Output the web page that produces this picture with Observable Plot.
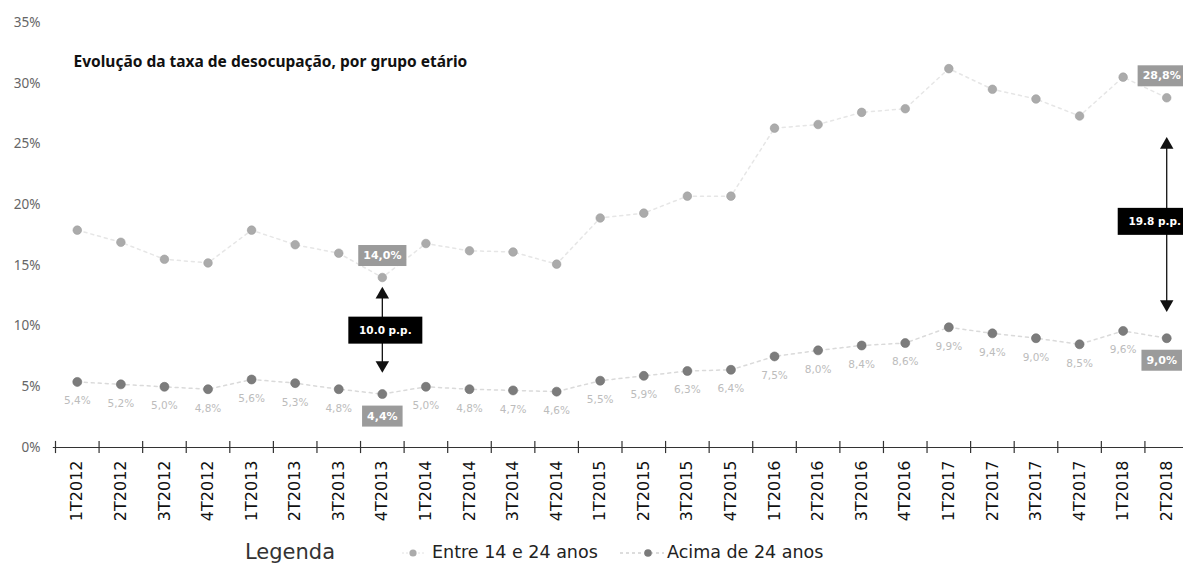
<!DOCTYPE html>
<html><head><meta charset="utf-8">
<script src="https://cdn.jsdelivr.net/npm/d3@7"></script>
<script src="https://cdn.jsdelivr.net/npm/@observablehq/plot@0.6"></script>
<style>
body{margin:0;background:#fff;}
#wrap{position:relative;width:1183px;height:564px;overflow:hidden;background:#fff;}
#legend{position:absolute;left:0;top:540px;width:1183px;height:24px;font-family:"DejaVu Sans",sans-serif;color:#222;}
#legend span{position:absolute;top:0;line-height:24px;white-space:nowrap;}
#legend svg{position:absolute;top:0;}
</style></head><body>
<div id="wrap"><div id="chart"></div>
<div id="legend">
  <span style="left:245px;font-size:21px;color:#333;">Legenda</span>
  <svg style="left:398px" width="32" height="24"><line x1="4" x2="28" y1="13" y2="13" stroke="#e2e2e2" stroke-dasharray="2,2"/><circle cx="15" cy="13" r="3.6" fill="#ababab"/></svg>
  <span style="left:432px;font-size:17.5px;">Entre 14 e 24 anos</span>
  <svg style="left:618px" width="48" height="24"><line x1="2" x2="46" y1="13" y2="13" stroke="#bbb" stroke-dasharray="3,3"/><circle cx="30" cy="13" r="3.8" fill="#7a7a7a"/></svg>
  <span style="left:667px;font-size:17.5px;">Acima de 24 anos</span>
</div></div>
<script>
const quarters = ["1T2012","2T2012","3T2012","4T2012","1T2013","2T2013","3T2013","4T2013","1T2014","2T2014","3T2014","4T2014","1T2015","2T2015","3T2015","4T2015","1T2016","2T2016","3T2016","4T2016","1T2017","2T2017","3T2017","4T2017","1T2018","2T2018"];
const young = [17.9,16.9,15.5,15.2,17.9,16.7,16.0,14.0,16.8,16.2,16.1,15.1,18.9,19.3,20.7,20.7,26.3,26.6,27.6,27.9,31.2,29.5,28.7,27.3,30.5,28.8];
const older = [5.4,5.2,5.0,4.8,5.6,5.3,4.8,4.4,5.0,4.8,4.7,4.6,5.5,5.9,6.3,6.4,7.5,8.0,8.4,8.6,9.9,9.4,9.0,8.5,9.6,9.0];
const yTicks = [0,5,10,15,20,25,30,35];
const highlighted = ["4T2013","2T2018"];
const diffLabels = ["10.0 p.p.","19.8 p.p."];
const title = "Evolução da taxa de desocupação, por grupo etário";

const rows = quarters.map((q,i)=>({i, q, young: young[i], older: older[i]}));
const hl = rows.filter(d=>highlighted.includes(d.q)).map((d,k)=>({...d, label: diffLabels[k], mid:(d.young+d.older)/2}));
const pct = v => v.toFixed(1).replace(".", ",") + "%";
const idx = d3.range(quarters.length);
const edges = d3.range(quarters.length + 1).map(i => i - 0.5);

// per-annotation pixel tweaks
const tweaks = [{top:13,bottom:25,dx:3,dy:-5,bdx:0},{top:43,bottom:30,dx:-12,dy:4,bdx:-5}];
const annoMarks = [];
hl.forEach((d,k)=>{
  const t = tweaks[k];
  annoMarks.push(Plot.ruleX([d],{x:"i",y1:"young",y2:"older",insetTop:t.top+6,insetBottom:t.bottom+6,stroke:"#111",strokeWidth:1.3}));
  annoMarks.push(Plot.dot([d],{x:"i",y:"young",symbol:"triangle",r:5,fill:"#111",dy:t.top+4}));
  annoMarks.push(Plot.dot([d],{x:"i",y:"older",symbol:"triangle",r:5,fill:"#111",rotate:180,dy:-(t.bottom+4)}));
  annoMarks.push(Plot.text([d],{x:"i",y:"mid",text:"label",fill:"#fff",fontSize:10.5,fontWeight:"bold",dx:t.dx,dy:t.dy,ariaDescription:"box-black"}));
  annoMarks.push(Plot.text([d],{x:"i",y:"young",text:v=>pct(v.young),dx:t.bdx,dy:-22,fill:"#fff",fontWeight:"bold",fontSize:11,ariaDescription:"box-gray"}));
  annoMarks.push(Plot.text([d],{x:"i",y:"older",text:v=>pct(v.older),dx:t.bdx,dy:22,fill:"#fff",fontWeight:"bold",fontSize:11,ariaDescription:"box-gray"}));
});

const chart = Plot.plot({
  width: 1183, height: 540,
  marginLeft: 55, marginRight: 0, marginTop: 22, marginBottom: 93,
  style: {fontFamily: "DejaVu Sans, sans-serif", background: "#fff", overflow: "visible"},
  x: {type: "linear", domain: [-0.5, quarters.length - 0.5], range: [55, 1188], label: null},
  y: {domain: [0, 35], label: null},
  marks: [
    Plot.axisY({ticks: yTicks, tickFormat: d => d + "%", tickSize: 0, tickPadding: 15, fontSize: 13.5, fill: "#666", fontFamily: "Noto Sans"}),
    Plot.axisX({ticks: idx, tickFormat: i => quarters[i], tickRotate: -90, tickSize: 0, tickPadding: 13, fontSize: 16, fill: "#111"}),
    Plot.ruleY([0], {x1: -0.55, x2: quarters.length, stroke: "#333", strokeWidth: 1.2}),
    Plot.ruleX(edges, {x: d => d, y1: -0.5, y2: 0.5, stroke: "#333", strokeWidth: 1.2}),
    Plot.line(rows, {x: "i", y: "young", stroke: "#e6e6e6", strokeWidth: 1.5, strokeDasharray: "3,4"}),
    Plot.line(rows, {x: "i", y: "older", stroke: "#dadada", strokeWidth: 1.5, strokeDasharray: "3,4"}),
    Plot.dot(rows, {x: "i", y: "young", r: 4.3, fill: "#ababab", stroke: "#a0a0a0", strokeWidth: 0.6}),
    Plot.dot(rows, {x: "i", y: "older", r: 4.5, fill: "#7c7c7c", stroke: "#6e6e6e", strokeWidth: 0.6}),
    Plot.text(rows.filter(d=>!highlighted.includes(d.q)), {x: "i", y: "older", text: d => pct(d.older), dy: 19, fontSize: 10.5, fill: "#bcbcbc"}),
    Plot.text([title], {frameAnchor: "top-left", dx: 18, dy: 33, text: d => d, fontWeight: "bold", fontSize: 15.5, fill: "#111", textAnchor: "start", fontFamily: "Noto Sans"}),
    ...annoMarks
  ]
});
document.getElementById("chart").appendChild(chart);

function boxes(sel, fill, fw, fh, padX, padY){
  chart.querySelectorAll(`g[aria-description="${sel}"] text`).forEach(t=>{
    const b = t.getBBox();
    const w = fw || b.width + 2*padX, h = fh || b.height + 2*padY;
    const cx = b.x + b.width/2, cy = b.y + b.height/2;
    const r = document.createElementNS("http://www.w3.org/2000/svg","rect");
    r.setAttribute("x", cx - w/2); r.setAttribute("y", cy - h/2);
    r.setAttribute("width", w); r.setAttribute("height", h);
    r.setAttribute("fill", fill);
    if (t.getAttribute("transform")) r.setAttribute("transform", t.getAttribute("transform"));
    t.parentNode.insertBefore(r, t);
  });
}
boxes("box-gray", "#9b9b9b", 0, 0, 5, 4);
boxes("box-black", "#000", 74, 27, 0, 0);
</script>
</body></html>
